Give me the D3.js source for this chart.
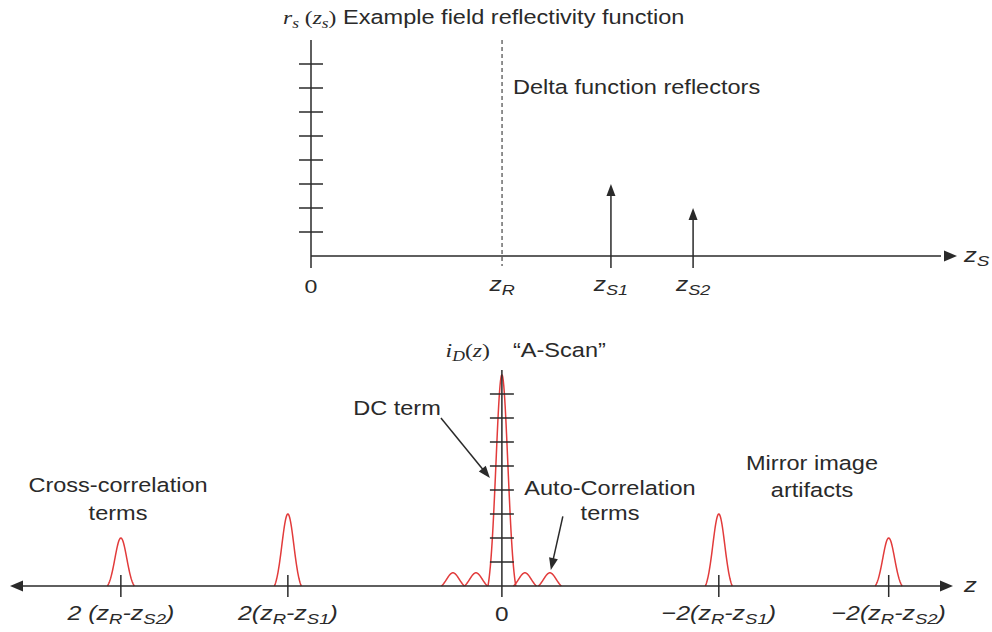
<!DOCTYPE html>
<html>
<head>
<meta charset="utf-8">
<script src="https://cdn.jsdelivr.net/npm/d3@7/dist/d3.min.js"></script>
<style>
  html, body { margin: 0; padding: 0; background: #fff; }
  svg { display: block; }
</style>
</head>
<body>
<svg id="chart" width="992" height="632"></svg>
<script>
// ---- Field reflectivity (top panel), depth in arbitrary units ----
const tickLevels = [1, 2, 3, 4, 5, 6, 7, 8];
const referenceDepth = 20;                 // z_R
const reflectorNames = ["S1", "S2"];
const reflectorDepth = [31.4, 40];         // z_S1, z_S2
const reflectorAmp = [3, 2];               // delta amplitudes

// ---- A-scan (bottom panel) ----
const dcAmp = 8.8;                         // DC term height
const autoLobeOffset = [-5.1, -2.7, 2.4, 5.0];
const autoLobeAmp = [0.55, 0.55, 0.55, 0.55];
const crossCenter = [-39.7, -22.3, 22.6, 40.3];
const crossAmp = [2, 3, 3, 2];
const crossLabels = [
  [["2 (z", {}], ["R", {sub: true}], ["-z", {}], ["S2", {sub: true}], [")", {}]],
  [["2(z", {}], ["R", {sub: true}], ["-z", {}], ["S1", {sub: true}], [")", {}]],
  [["\u22122(z", {}], ["R", {sub: true}], ["-z", {}], ["S1", {sub: true}], [")", {}]],
  [["\u22122(z", {}], ["R", {sub: true}], ["-z", {}], ["S2", {sub: true}], [")", {}]]
];

const SX = 1.22;           // horizontal text stretch
const SANS = "'Liberation Sans', Arial, sans-serif";
const SERIF = "'Liberation Serif', 'Times New Roman', serif";
const INK = "#2a2a2a";
const RED = "#e23b3b";

const svg = d3.select("#chart");

// scales
const xTop = d3.scaleLinear().domain([0, 67]).range([311, 951]);
const yTop = d3.scaleLinear().domain([0, 9]).range([256, 40]);
const xBot = d3.scaleLinear().domain([-51.25, 47]).range([10, 953]);
const yBot = d3.scaleLinear().domain([0, 9]).range([586, 370]);

function label(parent, x, y, anchor, parts, o = {}) {
  const size = o.size || 19;
  const t = parent.append("text")
    .attr("transform", `translate(${x},${y}) scale(${SX},1)`)
    .attr("text-anchor", anchor)
    .attr("font-family", o.family || SANS)
    .attr("font-size", size)
    .attr("font-style", o.italic ? "italic" : "normal")
    .attr("fill", INK);
  let shifted = false;
  parts.forEach(([s, p]) => {
    const ts = t.append("tspan").text(s);
    if (p.family) ts.attr("font-family", p.family);
    if (p.italic !== undefined) ts.attr("font-style", p.italic ? "italic" : "normal");
    if (p.sub) {
      ts.attr("font-size", size * 0.74).attr("dy", shifted ? 0 : 4);
      shifted = true;
    } else {
      if (shifted) ts.attr("dy", -4);
      shifted = false;
    }
  });
  return t;
}

function arrowHead(g, tipX, tipY, angle, len, half) {
  // triangle pointing along angle (radians) with its tip at (tipX, tipY)
  const bx = tipX - len * Math.cos(angle), by = tipY - len * Math.sin(angle);
  const nx = -Math.sin(angle) * half, ny = Math.cos(angle) * half;
  g.append("path")
    .attr("d", `M${tipX},${tipY}L${bx + nx},${by + ny}L${bx - nx},${by - ny}Z`)
    .attr("fill", INK);
}

function arrow(g, x1, y1, x2, y2, len = 11, half = 4.5) {
  const a = Math.atan2(y2 - y1, x2 - x1);
  g.append("line")
    .attr("x1", x1).attr("y1", y1)
    .attr("x2", x2 - (len - 1) * Math.cos(a)).attr("y2", y2 - (len - 1) * Math.sin(a))
    .attr("stroke", INK).attr("stroke-width", 1.5);
  arrowHead(g, x2, y2, a, len, half);
}

// ================= Top panel =================
const topG = svg.append("g");

// title
label(topG, 283, 24, "start", [
  ["r", {family: SERIF, italic: true}],
  ["s", {family: SERIF, italic: true, sub: true}],
  [" (", {family: SERIF}],
  ["z", {family: SERIF, italic: true}],
  ["s", {family: SERIF, italic: true, sub: true}],
  [")", {family: SERIF}],
  [" Example field reflectivity function", {}]
], {size: 19.3});

// dashed reference position
topG.append("line")
  .attr("x1", xTop(referenceDepth)).attr("x2", xTop(referenceDepth))
  .attr("y1", yTop(9)).attr("y2", yTop(0) + 10)
  .attr("stroke", "#555").attr("stroke-width", 1.3)
  .attr("stroke-dasharray", "4,3");

label(topG, 513, 94, "start", [["Delta function reflectors", {}]], {size: 19.3});

// vertical axis with ticks
topG.append("line")
  .attr("x1", xTop(0)).attr("x2", xTop(0))
  .attr("y1", yTop(9)).attr("y2", yTop(0) + 12)
  .attr("stroke", INK).attr("stroke-width", 1.5);
topG.selectAll(".vt").data(tickLevels).join("line")
  .attr("x1", xTop(0) - 12).attr("x2", xTop(0) + 12)
  .attr("y1", d => yTop(d)).attr("y2", d => yTop(d))
  .attr("stroke", INK).attr("stroke-width", 1.5);

// horizontal axis
topG.append("line")
  .attr("x1", xTop(0)).attr("x2", xTop(67) - 10)
  .attr("y1", yTop(0)).attr("y2", yTop(0))
  .attr("stroke", INK).attr("stroke-width", 1.5);
arrowHead(topG, xTop(67) + 6, yTop(0), 0, 13, 5.5);
label(topG, 964, 262, "start", [["z", {italic: true}], ["S", {italic: true, sub: true}]], {size: 21});

// reflector arrows
reflectorDepth.forEach((d, i) => {
  arrow(topG, xTop(d), yTop(0) + 12, xTop(d), yTop(reflectorAmp[i]), 12, 4.5);
});

// axis labels
label(topG, xTop(0), 293, "middle", [["0", {}]], {size: 19});
label(topG, xTop(referenceDepth), 291, "middle",
  [["z", {italic: true}], ["R", {italic: true, sub: true}]], {size: 20});
reflectorDepth.forEach((d, i) => {
  label(topG, xTop(d), 291, "middle",
    [["z", {italic: true}], [reflectorNames[i], {italic: true, sub: true}]], {size: 20});
});

// ================= Bottom panel =================
const botG = svg.append("g");

// title
label(botG, 490, 357, "end", [
  ["i", {family: SERIF, italic: true}],
  ["D", {family: SERIF, italic: true, sub: true}],
  ["(", {family: SERIF}],
  ["z", {family: SERIF, italic: true}],
  [")", {family: SERIF}]
], {size: 19.5});
label(botG, 513, 357, "start", [["\u201CA-Scan\u201D", {}]], {size: 19.3});

// bell-shaped peak profile in axis units
function peakPath(center, amp, half, sigma) {
  const e0 = Math.exp(-(half * half) / (2 * sigma * sigma));
  const pts = d3.range(-half, half + 1e-9, half / 30).map(u => {
    const v = (Math.exp(-(u * u) / (2 * sigma * sigma)) - e0) / (1 - e0);
    return [xBot(center + u), yBot(amp * v)];
  });
  return d3.line()(pts);
}

const curves = botG.append("g")
  .attr("fill", "none").attr("stroke", RED).attr("stroke-width", 1.5)
  .attr("stroke-linejoin", "round");

// DC term and auto-correlation lobes
curves.append("path").attr("d", peakPath(0, dcAmp, 1.45, 0.62));
autoLobeOffset.forEach((c, i) => {
  curves.append("path").attr("d", peakPath(c, autoLobeAmp[i], 1.2, 0.65));
});
// cross-correlation and mirror terms
crossCenter.forEach((c, i) => {
  curves.append("path").attr("d", peakPath(c, crossAmp[i], 1.4, 0.62));
});

// vertical axis with ticks
botG.append("line")
  .attr("x1", xBot(0)).attr("x2", xBot(0))
  .attr("y1", yBot(9)).attr("y2", yBot(0) + 11)
  .attr("stroke", INK).attr("stroke-width", 1.5);
botG.selectAll(".vt").data(tickLevels).join("line")
  .attr("x1", xBot(0) - 12).attr("x2", xBot(0) + 12)
  .attr("y1", d => yBot(d)).attr("y2", d => yBot(d))
  .attr("stroke", INK).attr("stroke-width", 1.5);

// horizontal double-ended axis
botG.append("line")
  .attr("x1", xBot(-51.25) + 10).attr("x2", xBot(47) - 10)
  .attr("y1", yBot(0)).attr("y2", yBot(0))
  .attr("stroke", INK).attr("stroke-width", 1.5);
arrowHead(botG, xBot(-51.25), yBot(0), Math.PI, 13, 5.5);
arrowHead(botG, xBot(47), yBot(0), 0, 13, 5.5);
label(botG, 964, 592, "start", [["z", {italic: true}]], {size: 21});

// ticks at the peak positions
crossCenter.forEach(c => {
  botG.append("line")
    .attr("x1", xBot(c)).attr("x2", xBot(c))
    .attr("y1", yBot(0) - 11).attr("y2", yBot(0) + 11)
    .attr("stroke", INK).attr("stroke-width", 1.5);
});

// tick labels
label(botG, xBot(0), 621, "middle", [["0", {}]], {size: 20});
crossCenter.forEach((c, i) => {
  label(botG, xBot(c), 620, "middle", crossLabels[i], {size: 20.5, italic: true});
});

// annotations
label(botG, 397, 415, "middle", [["DC term", {}]], {size: 19.3});
arrow(botG, xBot(-6.35), yBot(7), xBot(-1.25), yBot(4.5), 12, 4.5);

label(botG, 610, 495, "middle", [["Auto-Correlation", {}]], {size: 19.3});
label(botG, 610, 520, "middle", [["terms", {}]], {size: 19.3});
arrow(botG, xBot(6.35), yBot(2.9), xBot(5.1), yBot(0.67), 12, 4.5);

label(botG, 118, 492, "middle", [["Cross-correlation", {}]], {size: 19.3});
label(botG, 118, 520, "middle", [["terms", {}]], {size: 19.3});

label(botG, 812, 470, "middle", [["Mirror image", {}]], {size: 19.3});
label(botG, 812, 497, "middle", [["artifacts", {}]], {size: 19.3});
</script>
</body>
</html>
